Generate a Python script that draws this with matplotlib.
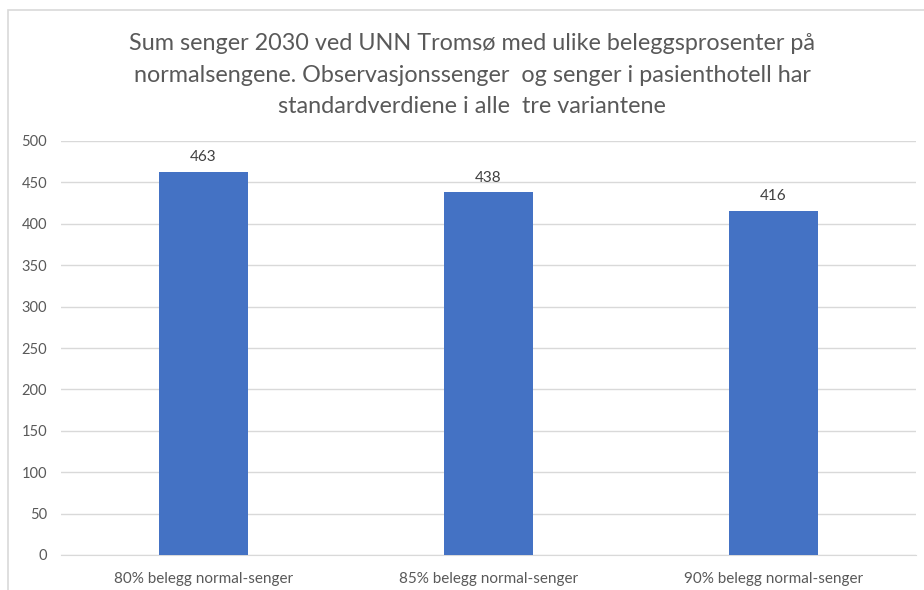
import matplotlib
matplotlib.use("Agg")
import matplotlib.pyplot as plt
from matplotlib.patches import Rectangle

categories = ["80% belegg normal-senger", "85% belegg normal-senger", "90% belegg normal-senger"]
values = [463, 438, 416]
yticks = [0, 50, 100, 150, 200, 250, 300, 350, 400, 450, 500]
title = ("Sum senger 2030 ved UNN Tromsø med ulike beleggsprosenter på\n"
         "normalsengene. Observasjonssenger  og senger i pasienthotell har\n"
         "standardverdiene i alle  tre variantene")

plt.rcParams['font.family'] = ['Lato', 'DejaVu Sans']
txt = '#595959'

fig = plt.figure(figsize=(9.24, 5.90), dpi=100)
fig.patches.append(Rectangle((8 / 924, -0.1), 1.2, 1.1 - 10 / 590, transform=fig.transFigure,
                             facecolor='white', edgecolor='#D9D9D9', linewidth=1.2,
                             zorder=-5))
ax = fig.add_axes([61 / 924, 1 - 555 / 590, 855 / 924, 414 / 590])
ax.set_facecolor('none')
ax.set_zorder(2)

x = range(len(categories))
bars = ax.bar(x, values, width=0.312, color='#4472C4', zorder=3)
for b, v in zip(bars, values):
    ax.text(b.get_x() + b.get_width() / 2, v + 9, str(v), ha='center', va='bottom',
            fontsize=11, color='#404040')

ax.set_xlim(-0.5, 2.5)
ax.set_ylim(0, 500)
ax.set_yticks(yticks)
ax.set_xticks(list(x))
ax.set_xticklabels(categories)
ax.grid(axis='y', color='#D9D9D9', linewidth=1, zorder=0)
for s in ['top', 'right', 'left']:
    ax.spines[s].set_visible(False)
ax.spines['bottom'].set_color('#D9D9D9')
ax.tick_params(axis='both', length=0, labelsize=10.5, colors=txt)
ax.tick_params(axis='x', pad=12, labelsize=11)
ax.tick_params(axis='y', pad=10)

fig.text(472 / 924, 1 - 75 / 590, title, ha='center', va='center', fontsize=16.8,
         color=txt, linespacing=1.6)

fig.savefig("out.png", dpi=100)
